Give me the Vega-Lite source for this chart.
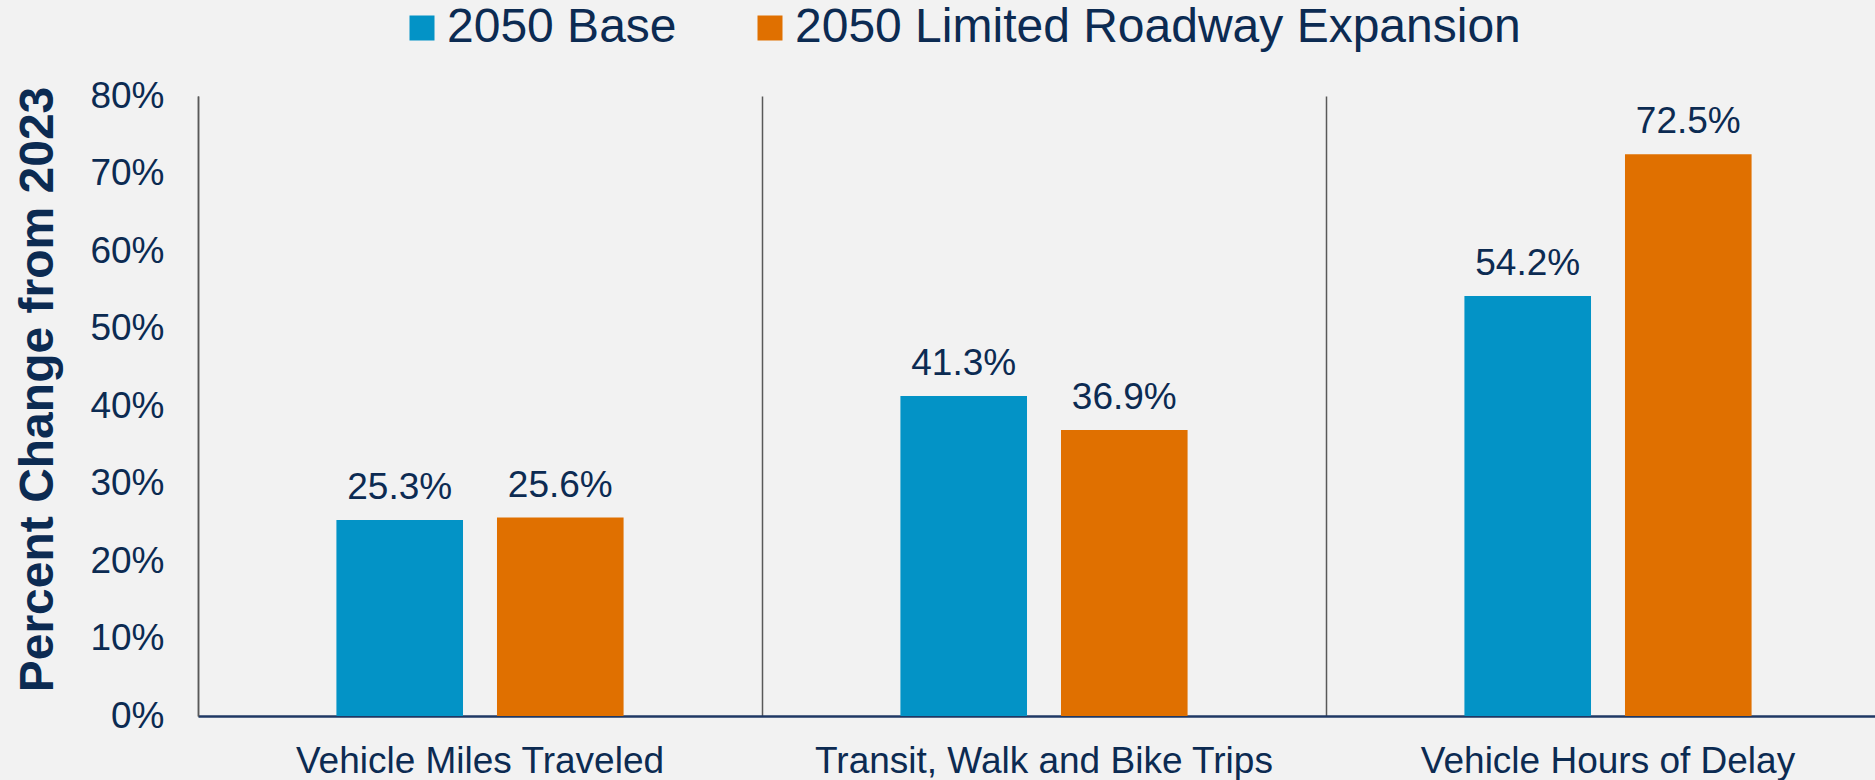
{
  "$schema": "https://vega.github.io/schema/vega-lite/v6.json",
  "autosize": {"type": "none"},
  "padding": {"left": 198, "top": 96, "right": 0, "bottom": 64},
  "width": 1677,
  "height": 620,
  "background": "#F2F2F2",
  "config": {
    "view": {"stroke": null},
    "font": "Liberation Sans",
    "legend": {"padding": 0}
  },
  "data": {
    "values": [
      {"category": "Vehicle Miles Traveled", "scenario": "2050 Base", "value": 0.253},
      {"category": "Vehicle Miles Traveled", "scenario": "2050 Limited Roadway Expansion", "value": 0.256},
      {"category": "Transit, Walk and Bike Trips", "scenario": "2050 Base", "value": 0.413},
      {"category": "Transit, Walk and Bike Trips", "scenario": "2050 Limited Roadway Expansion", "value": 0.369},
      {"category": "Vehicle Hours of Delay", "scenario": "2050 Base", "value": 0.542},
      {"category": "Vehicle Hours of Delay", "scenario": "2050 Limited Roadway Expansion", "value": 0.725}
    ]
  },
  "encoding": {
    "x": {
      "field": "category",
      "type": "nominal",
      "sort": null,
      "scale": {"range": [0, 1692], "paddingInner": 0, "paddingOuter": 0},
      "axis": {
        "title": null,
        "labelAngle": 0,
        "labelFont": "Liberation Sans",
        "labelFontSize": 37,
        "labelColor": "#0C2B52",
        "labelPadding": 27,
        "labelBaseline": "top",
        "labelLimit": 0,
        "labelOverlap": false,
        "ticks": false,
        "domainColor": "#1F3864",
        "domainWidth": 2.5,
        "grid": true,
        "bandPosition": 0,
        "gridColor": "#595959",
        "gridWidth": 1.5
      }
    },
    "xOffset": {
      "field": "scenario",
      "type": "nominal",
      "sort": null,
      "scale": {"paddingInner": 0.2116, "paddingOuter": 0.862}
    },
    "y": {
      "field": "value",
      "type": "quantitative",
      "scale": {"domain": [0, 0.8], "nice": false},
      "axis": {
        "values": [0, 0.1, 0.2, 0.3, 0.4, 0.5, 0.6, 0.7, 0.8],
        "format": ".0%",
        "grid": false,
        "ticks": false,
        "labelFont": "Liberation Sans",
        "labelFontSize": 37,
        "labelColor": "#0C2B52",
        "labelPadding": 34,
        "domainColor": "#595959",
        "domainWidth": 1.5,
        "title": "Percent Change from 2023",
        "titleFont": "Liberation Sans",
        "titleFontSize": 48,
        "titleFontWeight": "bold",
        "titleColor": "#0C2B52",
        "titleAngle": -90,
        "titleX": -160,
        "titleY": 293,
        "titleAlign": "center",
        "titleBaseline": "middle"
      }
    }
  },
  "layer": [
    {
      "mark": {"type": "bar"},
      "encoding": {
        "color": {
          "field": "scenario",
          "type": "nominal",
          "sort": null,
          "scale": {
            "domain": ["2050 Base", "2050 Limited Roadway Expansion"],
            "range": ["#0393C6", "#E07000"]
          },
          "legend": {
            "title": null,
            "orient": "none",
            "direction": "horizontal",
            "legendX": 200,
            "legendY": -92,
            "symbolType": "square",
            "symbolSize": 625,
            "symbolStrokeWidth": 0,
            "symbolOpacity": 1,
            "labelFont": "Liberation Sans",
            "labelFontSize": 48,
            "labelColor": "#0C2B52",
            "labelOffset": 1,
            "labelLimit": 1000,
            "columnPadding": 69
          }
        }
      }
    },
    {
      "mark": {
        "type": "text",
        "dy": -21,
        "baseline": "alphabetic",
        "font": "Liberation Sans",
        "fontSize": 37,
        "color": "#0C2B52"
      },
      "encoding": {
        "text": {"field": "value", "type": "quantitative", "format": ".1%"}
      }
    }
  ]
}
